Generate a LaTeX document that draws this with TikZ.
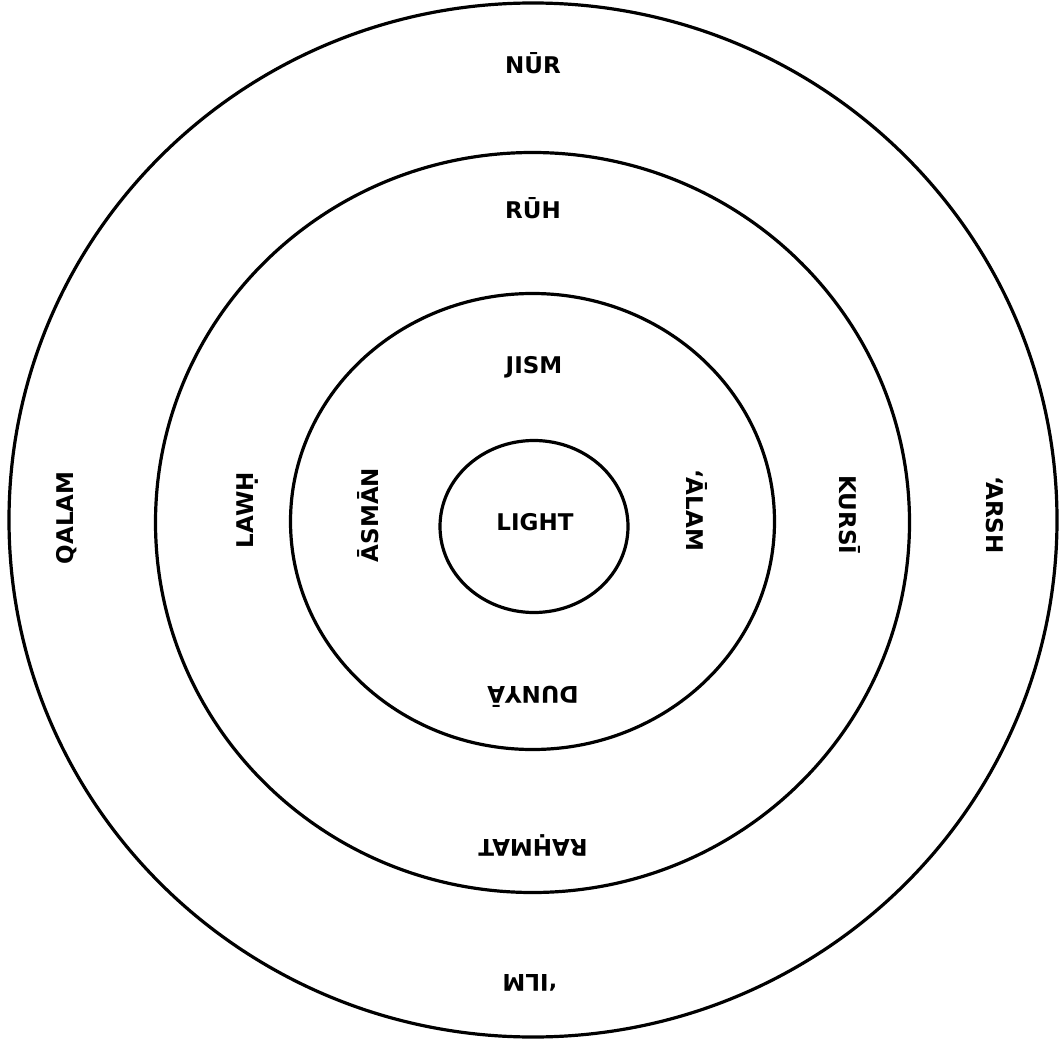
\documentclass[tikz,border=0pt]{standalone}
\usepackage{fontspec}
\setmainfont{DejaVu Sans}
\begin{document}
\begin{tikzpicture}[x=1pt,y=-1pt,
  ring/.style={line width=3.2pt,draw=black},
  lbl/.style={font=\bfseries\fontsize{23}{23}\selectfont, inner sep=0pt, text height=0.73em, text depth=0pt, anchor=center}]
\useasboundingbox (0,0) rectangle (1062,1040);
\draw[ring] (533,520) ellipse [x radius=524, y radius=517];
\draw[ring] (532.5,522.5) ellipse [x radius=377, y radius=370];
\draw[ring] (532.5,521.5) ellipse [x radius=242, y radius=228];
\draw[ring] (534,526.5) ellipse [x radius=94, y radius=86];
\node[lbl] (nur) at (533,70) {NŪR};
\node[lbl] (ruh) at (533,215) {RŪH};
\node[lbl] (jism) at (534,370) {JISM};
\node[lbl] (light) at (535,527) {LIGHT};
\node[lbl,rotate=180] (dunya) at (533,690) {DUNYĀ};
\node[lbl,rotate=180] (rahmat) at (533,843) {RAḤMAT};
\node[lbl,rotate=180] (ilm) at (530,978) {‘ILM};
\node[lbl,rotate=90] (qalam) at (70,518) {QALAM};
\node[lbl,rotate=90] (lawh) at (250,510) {LAWḤ};
\node[lbl,rotate=90] (asman) at (375,515) {ĀSMĀN};
\node[lbl,rotate=-90] (alam) at (690,510) {‘ĀLAM};
\node[lbl,rotate=-90] (kursi) at (843,515) {KURSĪ};
\node[lbl,rotate=-90] (arsh) at (990,515) {‘ARSH};
\end{tikzpicture}
\end{document}
